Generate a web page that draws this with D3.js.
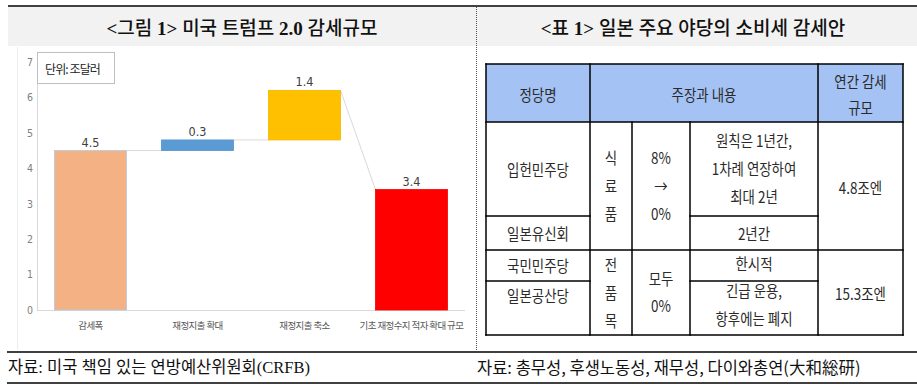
<!DOCTYPE html>
<html><head><meta charset="utf-8">
<script src="https://cdn.jsdelivr.net/npm/d3@7"></script>
<style>
html,body{margin:0;padding:0;background:#fff;}
svg{display:block;}
</style></head>
<body>
<svg id="c" width="917" height="392"></svg>
<script>
// ---------- DATA ----------
const leftTitle = "<그림 1> 미국 트럼프 2.0 감세규모";
const rightTitle = "<표 1> 일본 주요 야당의 소비세 감세안";
const unitLabel = "단위: 조달러";
const categories = ["감세폭", "재정지출 확대", "재정지출 축소", "기초 재정수지 적자 확대 규모"];
const values = [4.5, 0.3, 1.4, 3.4];
const starts = [0, 4.5, 4.8, 0];
const barColors = ["#F4B183", "#5B9BD5", "#FFC000", "#FF0000"];
const yTicks = [0, 1, 2, 3, 4, 5, 6, 7];
const leftSource = "자료: 미국 책임 있는 연방예산위원회(CRFB)";
const rightSource = "자료: 총무성, 후생노동성, 재무성, 다이와총연(大和総研)";

const tableHeaders = ["정당명", "주장과 내용", "연간 감세|규모"];
const parties = ["입헌민주당", "일본유신회", "국민민주당", "일본공산당"];
const items = ["식|료|품", "전|품|목"];
const rates = ["8%|→|0%", "모두|0%"];
const periods = ["원칙은 1년간,|1차례 연장하여|최대 2년", "2년간", "한시적", "긴급 운용,|항후에는 폐지"];
const cuts = ["4.8조엔", "15.3조엔"];

// ---------- LAYOUT ----------
const svg = d3.select("#c");
const KR = "'Noto Sans CJK KR','Noto Sans',sans-serif";
const NARROW = "'Liberation Sans Narrow','DejaVu Sans Condensed','Noto Sans CJK KR',sans-serif";

// header band & top rule
svg.append("rect").attr("x", 8).attr("y", 7).attr("width", 909).attr("height", 39).attr("fill", "#F2F2F2");
svg.append("line").attr("x1", 8).attr("x2", 917).attr("y1", 6).attr("y2", 6).attr("stroke", "#000").attr("stroke-width", 1.6);

function title(txt, cx) {
  const tx = svg.append("text").attr("x", cx).attr("y", 28).attr("text-anchor", "middle")
    .attr("dominant-baseline", "central")
    .attr("font-family", "'Liberation Serif'," + KR)
    .attr("font-size", 19).attr("fill", "#111");
  // split into Hangul / non-Hangul runs
  const runs = txt.match(/[\uAC00-\uD7A3]+|[^\uAC00-\uD7A3]+/g);
  runs.forEach(r => {
    const isK = /[\uAC00-\uD7A3]/.test(r);
    tx.append("tspan").attr("font-weight", isK ? 500 : 700).text(r);
  });
}
title(leftTitle, 242);
title(rightTitle, 693);

// dotted divider
svg.append("line").attr("x1", 476.5).attr("x2", 476.5).attr("y1", 7).attr("y2", 350)
  .attr("stroke", "#555").attr("stroke-width", 1).attr("stroke-dasharray", "1,1");

// bottom rules
svg.append("line").attr("x1", 7).attr("x2", 917).attr("y1", 352).attr("y2", 352).attr("stroke", "#000").attr("stroke-width", 1.5);
svg.append("line").attr("x1", 7).attr("x2", 917).attr("y1", 383).attr("y2", 383).attr("stroke", "#000").attr("stroke-width", 1.5);

svg.append("text").attr("x", 8).attr("y", 367).attr("dominant-baseline", "central")
  .attr("font-family", "'Liberation Serif'," + KR).attr("font-size", 16.5).attr("fill", "#111").text(leftSource);
svg.append("text").attr("x", 477).attr("y", 367).attr("dominant-baseline", "central")
  .attr("font-family", KR).attr("font-size", 16.5).attr("fill", "#111").text(rightSource);

// ---------- CHART ----------
const g = svg.append("g");
g.append("line").attr("x1", 17.5).attr("x2", 17.5).attr("y1", 47).attr("y2", 350).attr("stroke", "#EDEDED");

const x = d3.scaleBand().domain(categories).range([37, 465]).paddingInner(0.327).paddingOuter(0.1635);
const y = d3.scaleLinear().domain([0, 7]).range([310, 62]);

// axes lines
g.append("line").attr("x1", 37.5).attr("x2", 37.5).attr("y1", y(7)).attr("y2", y(0)).attr("stroke", "#D9D9D9");
g.append("line").attr("x1", 37).attr("x2", 465).attr("y1", y(0) + 0.5).attr("y2", y(0) + 0.5).attr("stroke", "#D9D9D9");

const yAxis = d3.axisLeft(y).tickValues(yTicks).tickSize(0).tickPadding(4).tickFormat(d3.format("d"));
const ya = g.append("g").attr("transform", "translate(37,0)").call(yAxis);
ya.select(".domain").remove();
ya.selectAll("text").attr("font-family", NARROW).attr("font-size", 10.5).attr("fill", "#808080");

const xAxis = d3.axisBottom(x).tickSize(0).tickPadding(12);
const xa = g.append("g").attr("transform", "translate(0," + y(0) + ")").call(xAxis);
xa.select(".domain").remove();
xa.selectAll("text").attr("font-family", KR).attr("font-size", 9.5).attr("fill", "#595959")
  .attr("letter-spacing", -0.6);

// connectors
const conn = [];
for (let i = 0; i < categories.length - 1; i++) {
  const from = starts[i] + values[i];
  const to = (i + 1 === categories.length - 1) ? starts[i + 1] + values[i + 1] : starts[i + 1];
  conn.push({ x1: x(categories[i]) + x.bandwidth(), y1: y(from), x2: x(categories[i + 1]), y2: y(to) });
}
g.selectAll(".conn").data(conn).join("line")
  .attr("x1", d => d.x1).attr("y1", d => d.y1).attr("x2", d => d.x2).attr("y2", d => d.y2)
  .attr("stroke", "#D9D9D9").attr("stroke-width", 1);

// bars
const barData = categories.map((c, i) => ({ c, v: values[i], s: starts[i], col: barColors[i] }));
g.selectAll(".bar").data(barData).join("rect")
  .attr("x", d => x(d.c)).attr("width", x.bandwidth())
  .attr("y", d => y(d.s + d.v)).attr("height", d => y(d.s) - y(d.s + d.v))
  .attr("fill", d => d.col)
  .attr("stroke", (d, i) => i === 0 ? "#B4C7E7" : d3.color(d.col).darker(0.15))
  .attr("stroke-width", 0.8);

g.selectAll(".lbl").data(barData).join("text")
  .attr("x", d => x(d.c) + x.bandwidth() / 2).attr("y", d => y(d.s + d.v) - 4)
  .attr("text-anchor", "middle").attr("font-family", NARROW).attr("font-size", 12.5)
  .attr("fill", "#404040").text(d => d.v.toFixed(1));

// unit box
g.append("rect").attr("x", 37.5).attr("y", 52.5).attr("width", 77).attr("height", 31)
  .attr("fill", "#fff").attr("stroke", "#BFBFBF");
g.append("text").attr("x", 45).attr("y", 68).attr("dominant-baseline", "central")
  .attr("font-family", KR).attr("font-size", 12).attr("letter-spacing", -0.9).attr("fill", "#222").text(unitLabel);

// ---------- TABLE ----------
const colX = [486, 590, 632, 690, 818, 903];
const rowY = [64, 122, 216, 250, 281, 335];
const t = svg.append("g");

t.append("rect").attr("x", colX[0]).attr("y", rowY[0]).attr("width", colX[5] - colX[0]).attr("height", rowY[1] - rowY[0])
  .attr("fill", "#A4C2F4");

const lines = [];
lines.push([colX[0], rowY[0], colX[5], rowY[0]]);
lines.push([colX[0], rowY[5], colX[5], rowY[5]]);
lines.push([colX[0], rowY[0], colX[0], rowY[5]]);
lines.push([colX[5], rowY[0], colX[5], rowY[5]]);
lines.push([colX[0], rowY[1], colX[5], rowY[1]]);
lines.push([colX[1], rowY[0], colX[1], rowY[5]]);
lines.push([colX[4], rowY[0], colX[4], rowY[5]]);
lines.push([colX[2], rowY[1], colX[2], rowY[5]]);
lines.push([colX[3], rowY[1], colX[3], rowY[5]]);
lines.push([colX[0], rowY[2], colX[1], rowY[2]]);
lines.push([colX[3], rowY[2], colX[4], rowY[2]]);
lines.push([colX[0], rowY[3], colX[5], rowY[3]]);
lines.push([colX[0], rowY[4], colX[1], rowY[4]]);
lines.push([colX[3], rowY[4], colX[4], rowY[4]]);
t.selectAll(".gl").data(lines).join("line")
  .attr("x1", d => d[0]).attr("y1", d => d[1]).attr("x2", d => d[2]).attr("y2", d => d[3])
  .attr("stroke", "#000").attr("stroke-width", 1.5).attr("stroke-linecap", "square");

function cell(txt, c0, c1, r0, r1, lh, dy) {
  const parts = txt.split("|");
  const cx = (colX[c0] + colX[c1]) / 2;
  const cy = (rowY[r0] + rowY[r1]) / 2 + (dy || 0);
  parts.forEach((p, i) => {
    const yy = cy + (i - (parts.length - 1) / 2) * lh;
    t.append("text").attr("transform", `translate(${cx},${yy}) scale(0.84,1)`)
      .attr("text-anchor", "middle").attr("dominant-baseline", "central")
      .attr("font-family", KR).attr("font-size", 16).attr("fill", "#2a2a2a").text(p);
  });
}
cell(tableHeaders[0], 0, 1, 0, 1, 26, 1);
cell(tableHeaders[1], 1, 4, 0, 1, 26, 1);
cell(tableHeaders[2], 4, 5, 0, 1, 26, 1);

cell(parties[0], 0, 1, 1, 2, 28, 0);
cell(parties[1], 0, 1, 2, 3, 28, 0);
cell(parties[2], 0, 1, 3, 4, 28, -1);
cell(parties[3], 0, 1, 4, 4, 28, 14);

cell(items[0], 1, 2, 1, 3, 28, -1);
cell(items[1], 1, 2, 3, 5, 28, -1);
cell(rates[0], 2, 3, 1, 3, 28, -1);
cell(rates[1], 2, 3, 3, 5, 27, -1);

cell(periods[0], 3, 4, 1, 2, 28, -1);
cell(periods[1], 3, 4, 2, 3, 28, 0);
cell(periods[2], 3, 4, 3, 4, 28, -3);
cell(periods[3], 3, 4, 4, 5, 28, -4);

cell(cuts[0], 4, 5, 1, 3, 28, 1);
cell(cuts[1], 4, 5, 3, 5, 28, 0);
</script>
</body></html>
